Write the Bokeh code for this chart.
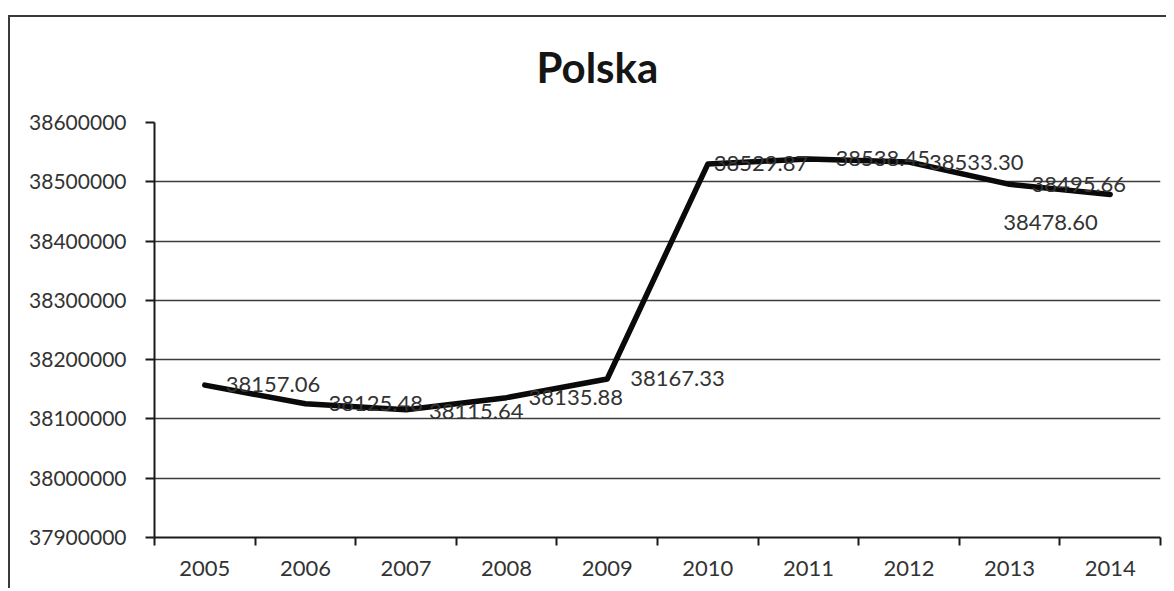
from bokeh.plotting import figure
from bokeh.models import FixedTicker, BasicTickFormatter, ColumnDataSource
from bokeh.core.properties import value
from bokeh.embed import file_html
from bokeh.resources import INLINE

# ---- data ----
years = ["2005", "2006", "2007", "2008", "2009", "2010", "2011", "2012", "2013", "2014"]
population_thousands = [38157.06, 38125.48, 38115.64, 38135.88, 38167.33,
                        38529.87, 38538.45, 38533.30, 38495.66, 38478.60]
y_ticks = [37900000, 38000000, 38100000, 38200000, 38300000, 38400000, 38500000, 38600000]
title_text = "Polska"

# ---- style: label offsets (pixels) ----
label_dx = [21, 23, 23, 22, 23, 6, 27, 20, 22, -107]
label_dy = [-1, 0, 2, 0, -1, -1, 0, 0, 0, 28]

FONT = "Lato"
TXT = "#333333"
FRAME_CSS = ("linear-gradient(#3a3a3a,#3a3a3a) 0px 7px / 100% 2px no-repeat, "
             "linear-gradient(#3a3a3a,#3a3a3a) 0px 7px / 2px 100% no-repeat, #ffffff")

xs = list(range(len(years)))
ys = [v * 1000 for v in population_thousands]
labels = [f"{v:.2f}" for v in population_thousands]

p = figure(width=1158, height=580, output_backend="svg", toolbar_location=None,
           x_range=(-0.5, len(years) - 0.5), y_range=(y_ticks[0], y_ticks[-1]),
           min_border_left=146, min_border_right=6, min_border_top=114, min_border_bottom=51,
           margin=(8, 0, 0, 8),
           styles={"background": FRAME_CSS})

p.title.text = title_text
p.title.text_font = FONT
p.title.text_font_style = "bold"
p.title.text_font_size = "42px"
p.title.text_color = "#151515"
p.title.align = "left"
p.title.offset = 382
p.title.standoff = 61

p.outline_line_color = None
p.background_fill_color = "white"
p.border_fill_color = None

# y axis
p.yaxis.ticker = FixedTicker(ticks=y_ticks)
p.yaxis.formatter = BasicTickFormatter(use_scientific=False)
p.yaxis.major_label_text_font = FONT
p.yaxis.major_label_text_font_size = "21px"
p.yaxis.major_label_text_color = TXT
p.yaxis.major_tick_out = 9
p.yaxis.major_tick_in = 0
p.yaxis.minor_tick_line_color = None
p.yaxis.axis_line_width = 2
p.yaxis.axis_line_color = "#1a1a1a"
p.yaxis.major_tick_line_color = "#1a1a1a"
p.yaxis.major_tick_line_width = 2
p.yaxis.major_label_standoff = 19

# x axis: labels at centres, ticks at category boundaries
centers = xs
bounds = [i - 0.5 for i in range(len(years) + 1)]
p.xaxis.ticker = FixedTicker(ticks=centers, minor_ticks=bounds)
p.xaxis.major_label_overrides = {i: y for i, y in zip(xs, years)}
p.xaxis.major_tick_line_color = None
p.xaxis.minor_tick_line_color = "#1a1a1a"
p.xaxis.minor_tick_line_width = 2
p.xaxis.minor_tick_out = 8
p.xaxis.minor_tick_in = 0
p.xaxis.major_tick_out = 8
p.xaxis.major_tick_in = 0
p.xaxis.axis_line_width = 2
p.xaxis.axis_line_color = "#1a1a1a"
p.xaxis.major_label_text_font = FONT
p.xaxis.major_label_text_font_size = "22px"
p.xaxis.major_label_text_color = TXT
p.xaxis.major_label_standoff = 15

p.xgrid.grid_line_color = None
p.ygrid.ticker = FixedTicker(ticks=y_ticks)
p.ygrid.grid_line_color = "#3c3c3c"
p.ygrid.grid_line_width = 1.6

src = ColumnDataSource(dict(x=xs, y=ys, label=labels, dx=label_dx, dy=label_dy))
p.line("x", "y", source=src, line_color="#0a0a0a", line_width=5.5, line_join="round", line_cap="round")
p.text("x", "y", text="label", source=src, x_offset="dx", y_offset="dy",
       text_font=value(FONT), text_font_size="22px", text_color=TXT,
       text_baseline="middle", text_align="left")

open("out.html", "w").write(file_html(p, INLINE))
